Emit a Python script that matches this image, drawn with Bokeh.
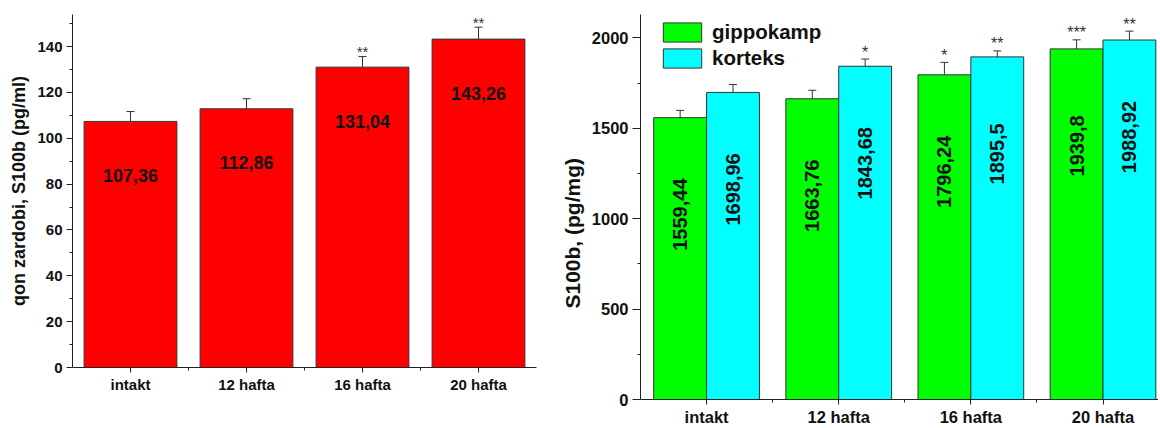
import numpy as np
from bokeh.plotting import figure
from bokeh.models import ColumnDataSource, FixedTicker, Range1d, Whisker, TeeHead
from bokeh.layouts import row
from bokeh.core.properties import value
from bokeh.embed import file_html
from bokeh.resources import INLINE

# ---------------- data ----------------
categories = ["intakt", "12 hafta", "16 hafta", "20 hafta"]

serum_values = [107.36, 112.86, 131.04, 143.26]
serum_err = [4.3, 4.4, 4.6, 5.2]
serum_stars = ["", "", "**", "**"]

hip_values = [1559.44, 1663.76, 1796.24, 1939.8]
hip_err = [40, 47, 69, 50]
hip_stars = ["", "", "*", "***"]

ctx_values = [1698.96, 1843.68, 1895.5, 1988.92]
ctx_err = [44, 40, 33, 49]
ctx_stars = ["", "*", "**", "**"]

left_yticks = [0, 20, 40, 60, 80, 100, 120, 140]
right_yticks = [0, 500, 1000, 1500, 2000]

FONT = "Liberation Sans"
TXT = "#111111"
AX = "#222222"
EDGE = "#333333"


def fmt(v):
    return f"{v:g}".replace(".", ",")


x = np.arange(len(categories), dtype=float)


def style(p, tick_fs, xlab_fs, ylab, ylab_fs, yticks, ystep, ytick_out):
    p.xgrid.visible = False
    p.ygrid.visible = False
    p.outline_line_color = None
    p.background_fill_color = "white"
    p.border_fill_color = "white"
    p.xaxis.ticker = FixedTicker(ticks=list(x), minor_ticks=list(x[:-1] + 0.5))
    p.xaxis.major_label_overrides = {int(i): c for i, c in zip(x, categories)}
    p.yaxis.ticker = FixedTicker(ticks=yticks,
                                 minor_ticks=[t + ystep / 2 for t in yticks])
    for ax in p.xaxis + p.yaxis:
        ax.axis_line_color = AX
        ax.axis_line_width = 1
        ax.major_tick_line_color = AX
        ax.minor_tick_line_color = AX
        ax.major_tick_in = 0
        ax.minor_tick_in = 0
        ax.minor_tick_out = 3
        ax.major_label_text_font = FONT
        ax.major_label_text_font_style = "bold"
        ax.major_label_text_color = TXT
    p.xaxis.major_tick_out = 5
    p.yaxis.major_tick_out = ytick_out
    p.xaxis.major_label_text_font_size = xlab_fs
    p.yaxis.major_label_text_font_size = tick_fs
    p.xaxis.major_label_standoff = 3
    p.yaxis.major_label_standoff = 4
    p.yaxis.axis_label = ylab
    p.yaxis.axis_label_text_font = FONT
    p.yaxis.axis_label_text_font_style = "bold"
    p.yaxis.axis_label_text_font_size = ylab_fs
    p.yaxis.axis_label_text_color = TXT
    p.yaxis.axis_label_standoff = 5


def whisker(p, src, xcol):
    w = Whisker(base=xcol, upper="upper", lower="lower", source=src,
                line_color=EDGE, line_width=1,
                upper_head=TeeHead(size=8, line_color=EDGE, line_width=1),
                lower_head=TeeHead(size=8, line_color=EDGE, line_width=1))
    p.add_layout(w)


# ---------------- left chart ----------------
p1 = figure(width=552, height=396,
            x_range=Range1d(-0.5, len(categories) - 0.5), y_range=Range1d(0, 154),
            output_backend="svg", toolbar_location=None,
            min_border_left=72, min_border_right=16, min_border_top=14, min_border_bottom=28)

s1 = ColumnDataSource(dict(
    x=x, top=serum_values,
    lower=[v - e for v, e in zip(serum_values, serum_err)],
    upper=[v + e for v, e in zip(serum_values, serum_err)],
    lab=[fmt(v) for v in serum_values], star=serum_stars))

p1.vbar(x="x", top="top", width=0.8, source=s1, fill_color="#ff0000",
        line_color=EDGE, line_width=1)
whisker(p1, s1, "x")
p1.text(x="x", y="top", text="lab", source=s1, text_align="center",
        text_baseline="middle", y_offset=54, text_font=value(FONT),
        text_font_style="bold", text_font_size="18px", text_color=TXT)
p1.text(x="x", y="upper", text="star", source=s1, text_align="center",
        text_baseline="middle", y_offset=-5, text_font=value(FONT),
        text_font_size="15px", text_color=EDGE)
style(p1, "15px", "15px", "qon zardobi, S100b (pg/ml)", "18px", left_yticks, 20, 6)

# ---------------- right chart ----------------
p2 = figure(width=606, height=428,
            x_range=Range1d(-0.5, len(categories) - 0.58), y_range=Range1d(0, 2130),
            output_backend="svg", toolbar_location=None,
            min_border_left=88, min_border_right=0, min_border_top=14, min_border_bottom=28)

s_h = ColumnDataSource(dict(
    x=x - 0.2, top=hip_values,
    lower=[v - e for v, e in zip(hip_values, hip_err)],
    upper=[v + e for v, e in zip(hip_values, hip_err)],
    lab=[fmt(v) for v in hip_values], star=hip_stars))
s_c = ColumnDataSource(dict(
    x=x + 0.2, top=ctx_values,
    lower=[v - e for v, e in zip(ctx_values, ctx_err)],
    upper=[v + e for v, e in zip(ctx_values, ctx_err)],
    lab=[fmt(v) for v in ctx_values], star=ctx_stars))

p2.vbar(x="x", top="top", width=0.4, source=s_h, fill_color="#00ff00",
        line_color=EDGE, line_width=1, legend_label="gippokamp")
p2.vbar(x="x", top="top", width=0.4, source=s_c, fill_color="#00ffff",
        line_color=EDGE, line_width=1, legend_label="korteks")
for s in (s_h, s_c):
    whisker(p2, s, "x")
    p2.text(x="x", y="top", text="lab", source=s, angle=np.pi / 2,
            text_align="center", text_baseline="middle", y_offset=97,
            text_font=value(FONT), text_font_style="bold",
            text_font_size="20px", text_color=TXT)
    p2.text(x="x", y="upper", text="star", source=s, text_align="center",
            text_baseline="middle", y_offset=-7, text_font=value(FONT),
            text_font_size="16px", text_color=EDGE)

style(p2, "16.5px", "16.5px", "S100b, (pg/mg)" + "\u00a0" * 9, "21px",
      right_yticks, 500, 8)

lg = p2.legend[0]
lg.location = (18, 329)
lg.padding = 0
lg.margin = 0
lg.spacing = 2
lg.glyph_width = 48
lg.glyph_height = 24
lg.label_height = 24
lg.label_standoff = 6
lg.label_text_font = FONT
lg.label_text_font_style = "bold"
lg.label_text_font_size = "20.5px"
lg.label_text_color = TXT
lg.border_line_color = None
lg.background_fill_alpha = 0

layout = row(p1, p2)
open("out.html", "w").write(file_html(layout, INLINE))
